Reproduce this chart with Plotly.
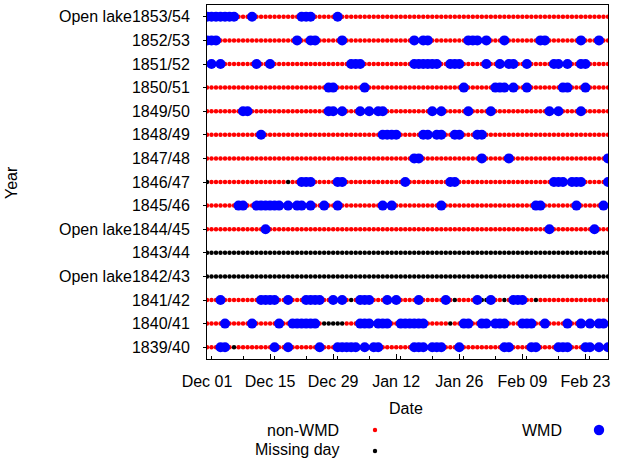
import pandas as pd
import plotly.graph_objects as go

# seasons from bottom to top of the chart
SEASONS = ["1839/40", "1840/41", "1841/42", "1842/43", "1843/44", "1844/45",
           "1845/46", "1846/47", "1847/48", "1848/49", "1849/50", "1850/51",
           "1851/52", "1852/53", "1853/54"]
OPEN_LAKE = ["1842/43", "1844/45", "1853/54"]
N_DAYS = 90  # Dec 01 .. Feb 28
DATES = pd.date_range("1900-12-01", periods=N_DAYS)

# WMD days, as day offsets from Dec 01
WMD_1839 = [3, 4, 15, 18, 25, 29, 30, 31, 32, 33, 35, 37, 38, 46, 47, 48, 50, 51, 52,
            56, 66, 67, 72, 73, 78, 79, 80, 84, 85, 87, 89]
WMD_1840 = [4, 10, 16, 19, 20, 21, 22, 23, 24, 34, 35, 36, 38, 39, 40, 43, 44, 45, 46,
            47, 48, 57, 58, 61, 62, 64, 65, 66, 70, 71, 72, 75, 80, 83, 85, 87, 88]
WMD_1841 = [3, 12, 13, 14, 15, 18, 22, 23, 24, 25, 28, 30, 34, 35, 36, 40, 42, 47, 53,
            60, 63, 68, 69, 70]
WMD_1842 = []
WMD_1843 = []
WMD_1844 = [13, 76, 86]
WMD_1845 = [7, 8, 11, 12, 13, 14, 15, 16, 18, 20, 21, 23, 26, 29, 39, 41, 52, 73, 74,
            82, 88]
WMD_1846 = [21, 22, 23, 29, 30, 44, 54, 55, 77, 78, 79, 81, 82, 83, 89]
WMD_1847 = [46, 47, 61, 67, 89]
WMD_1848 = [12, 39, 40, 41, 42, 48, 49, 51, 52, 55, 56, 60, 61]
WMD_1849 = [8, 9, 27, 28, 30, 34, 36, 38, 39, 50, 52, 58, 63, 76, 78, 83]
WMD_1850 = [27, 28, 35, 57, 64, 65, 66, 68, 71, 79, 80, 84]
WMD_1851 = [1, 3, 11, 14, 32, 33, 34, 46, 47, 48, 49, 50, 51, 54, 55, 56, 62, 65, 67,
            68, 71, 77, 78, 80, 83, 84]
WMD_1852 = [0, 1, 2, 20, 23, 24, 30, 46, 48, 49, 58, 59, 60, 62, 66, 74, 75, 83, 87]
WMD_1853 = [0, 1, 2, 3, 4, 5, 6, 10, 21, 22, 23, 29]

# missing days, as day offsets from Dec 01
MISSING_1839 = [6]
MISSING_1840 = [26, 27, 28, 29, 30, 54]
MISSING_1841 = [32, 55, 61, 62, 66, 73]
MISSING_1842 = list(range(N_DAYS))
MISSING_1843 = list(range(N_DAYS))
MISSING_1846 = [0, 18]

WMD = [WMD_1839, WMD_1840, WMD_1841, WMD_1842, WMD_1843, WMD_1844, WMD_1845,
       WMD_1846, WMD_1847, WMD_1848, WMD_1849, WMD_1850, WMD_1851, WMD_1852, WMD_1853]
MISSING = {"1839/40": MISSING_1839, "1840/41": MISSING_1840, "1841/42": MISSING_1841,
           "1842/43": MISSING_1842, "1843/44": MISSING_1843, "1846/47": MISSING_1846}

LABELS = [("Open lake" + s) if s in OPEN_LAKE else s for s in SEASONS]

pts = {"non": ([], []), "miss": ([], []), "wmd": ([], [])}
for label, season, wmd in zip(LABELS, SEASONS, WMD):
    missing = MISSING.get(season, [])
    for d in range(N_DAYS):
        key = "wmd" if d in wmd else ("miss" if d in missing else "non")
        pts[key][0].append(DATES[d])
        pts[key][1].append(label)

FONT = "Liberation Sans, Arial, sans-serif"

fig = go.Figure()
fig.add_trace(go.Scatter(x=pts["non"][0], y=pts["non"][1], mode="markers", name="non-WMD",
                         marker=dict(color="#ff0000", size=4.5, line=dict(width=0))))
fig.add_trace(go.Scatter(x=pts["miss"][0], y=pts["miss"][1], mode="markers", name="Missing day",
                         marker=dict(color="#000000", size=4.5, line=dict(width=0))))
fig.add_trace(go.Scatter(x=pts["wmd"][0], y=pts["wmd"][1], mode="markers", name="WMD",
                         marker=dict(color="#0000ff", size=10, line=dict(width=0))))

# plot box in pixels: x 207..608, y 5..359
L, R, T, B = 207, 608, 5, 359


def px(x):
    return (x - L) / (R - L)


def py(y):
    return (B - y) / (B - T)


annotations = [
    dict(text="Date", x=px(406), y=py(408)),
    dict(text="Year", x=px(12), y=py(183), textangle=-90),
    dict(text="non-WMD", x=px(341), y=py(430), xanchor="right"),
    dict(text="Missing day", x=px(341), y=py(450), xanchor="right"),
    dict(text="WMD", x=px(564), y=py(430), xanchor="right"),
]
for a in annotations:
    a.update(xref="paper", yref="paper", showarrow=False, yanchor="middle",
             font=dict(family=FONT, size=16, color="black"))
    a.setdefault("xanchor", "center")

shapes = []
for cx, cy, r, col in [(375, 430, 2.2, "#ff0000"), (375, 451, 2.2, "#000000"),
                       (599, 430, 5.2, "#0000ff")]:
    shapes.append(dict(type="circle", xref="paper", yref="paper",
                       x0=px(cx - r), x1=px(cx + r), y0=py(cy + r), y1=py(cy - r),
                       fillcolor=col, line=dict(width=0)))

fig.update_layout(
    width=620, height=465,
    margin=dict(l=L, r=620 - R, t=T, b=465 - B),
    paper_bgcolor="white", plot_bgcolor="white",
    showlegend=False,
    font=dict(family=FONT, size=16, color="black"),
    annotations=annotations,
    shapes=shapes,
    xaxis=dict(
        type="date", range=[DATES[0], DATES[-1]],
        tick0=DATES[0], dtick=14 * 86400000, tickformat="%b %d",
        ticks="inside", ticklen=5, tickcolor="black",
        minor=dict(dtick=7 * 86400000, ticks="inside", ticklen=3, tickcolor="black"),
        showline=True, mirror=True, linecolor="black", linewidth=1,
        showgrid=False, zeroline=False, ticklabelstandoff=8,
    ),
    yaxis=dict(
        type="category", categoryorder="array", categoryarray=LABELS,
        range=[-0.5, len(LABELS) - 0.5],
        ticks="outside", ticklen=3, tickcolor="black",
        showline=True, mirror=True, linecolor="black", linewidth=1,
        showgrid=False, zeroline=False, ticklabelstandoff=10,
    ),
)

fig.write_html("out.html", config={"displayModeBar": False},
               post_script="document.body.style.margin='0px';")
